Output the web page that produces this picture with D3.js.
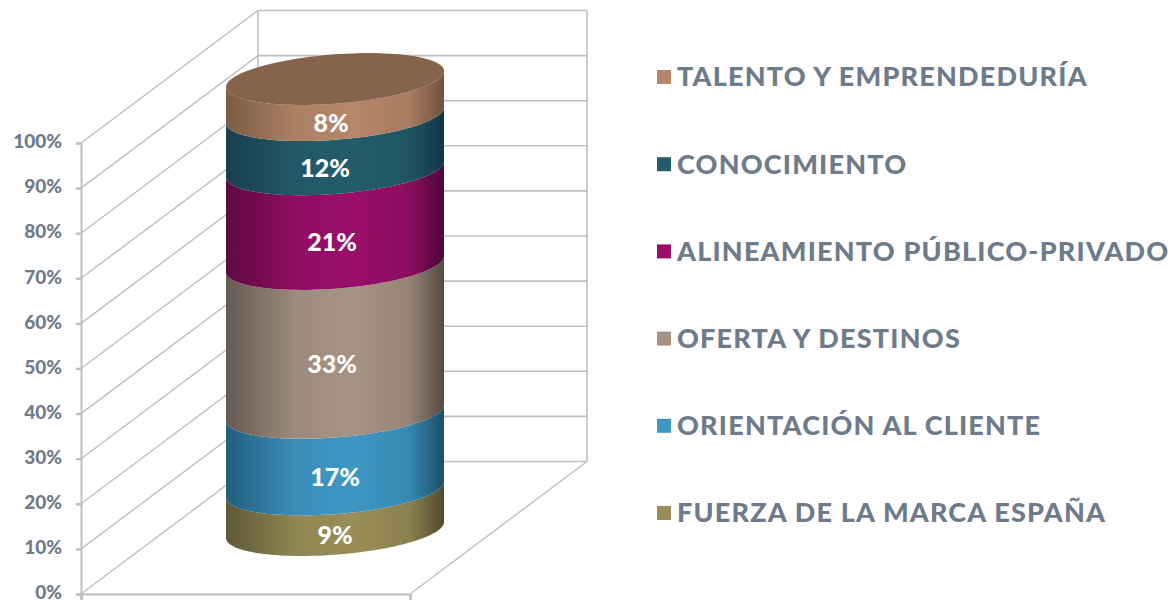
<!DOCTYPE html>
<html>
<head>
<meta charset="utf-8">
<script src="https://cdn.jsdelivr.net/npm/d3@7"></script>
<style>
  html, body { margin: 0; background: #fff; }
  svg { display: block; font-family: Lato, sans-serif; }
</style>
</head>
<body>
<div id="chart"></div>
<script>
// data, bottom of the stack first
const categories = ["FUERZA DE LA MARCA ESPAÑA", "ORIENTACIÓN AL CLIENTE", "OFERTA Y DESTINOS",
  "ALINEAMIENTO PÚBLICO-PRIVADO", "CONOCIMIENTO", "TALENTO Y EMPRENDEDURÍA"];
const values = [9, 17, 33, 21, 12, 8];
const axisTicks = [0, 10, 20, 30, 40, 50, 60, 70, 80, 90, 100];

// colours: legend/mid tone, edge tones of the cylinder shading
const baseColors = ["#998E57", "#3E97C3", "#A69383", "#9A0E69", "#245C6C", "#B5866A"];
const leftColors = ["#5E5836", "#235F7E", "#655B51", "#5E0A42", "#183F4D", "#7A5C44"];
const rightColors = ["#514C2F", "#1D4F68", "#544A41", "#4F0838", "#123642", "#6E5340"];
const topColor = "#86634B";

const gridColor = "#BFBFBF";
const textColor = "#6E7B8B";

const svg = d3.select("#chart").append("svg").attr("width", 1176).attr("height", 603);

// scales
const y = d3.scaleLinear().domain([0, 100]).range([594, 143]);
const x = d3.scaleLinear().domain([0, 1]).range([81, 410]);
const depth = { dx: 177, dy: -132.5 };

// back wall + floor
const walls = svg.append("g").attr("fill", "none").attr("stroke", gridColor);
walls.selectAll(".back").data(axisTicks).join("line")
  .attr("x1", x(0) + depth.dx).attr("x2", x(1) + depth.dx)
  .attr("y1", d => y(d) + depth.dy).attr("y2", d => y(d) + depth.dy)
  .attr("stroke-width", 1.6);
walls.selectAll(".side").data(axisTicks).join("line")
  .attr("x1", x(0)).attr("x2", x(0) + depth.dx)
  .attr("y1", d => y(d)).attr("y2", d => y(d) + depth.dy)
  .attr("stroke-width", 1.4);
walls.append("line")
  .attr("x1", x(0) + depth.dx).attr("x2", x(0) + depth.dx)
  .attr("y1", y(0) + depth.dy).attr("y2", y(100) + depth.dy)
  .attr("stroke-width", 1.6);
walls.append("line")
  .attr("x1", x(1) + depth.dx).attr("x2", x(1) + depth.dx)
  .attr("y1", y(0) + depth.dy).attr("y2", y(100) + depth.dy)
  .attr("stroke-width", 1.6);
walls.append("line")
  .attr("x1", x(1)).attr("x2", x(1) + depth.dx)
  .attr("y1", y(0)).attr("y2", y(0) + depth.dy)
  .attr("stroke-width", 1.4);

// y axis
const yAxis = svg.append("g")
  .attr("transform", `translate(${x(0)},0)`)
  .call(d3.axisLeft(y).tickValues(axisTicks).tickFormat(d => d + "%").tickSize(5).tickPadding(14));
yAxis.select(".domain").attr("stroke", gridColor).attr("stroke-width", 2);
yAxis.selectAll("line").attr("stroke", gridColor).attr("stroke-width", 2.5);
yAxis.selectAll("text").attr("fill", textColor)
  .style("font-family", "Lato, sans-serif").style("font-size", "19px").style("font-weight", 900);
yAxis.selectAll("text").attr("dy", "0.25em");

// x axis
const xAxis = svg.append("g")
  .attr("transform", `translate(0,${y(0)})`)
  .call(d3.axisBottom(x).tickValues([0, 1]).tickFormat("").tickSize(6));
xAxis.select(".domain").attr("stroke", gridColor).attr("stroke-width", 2);
xAxis.selectAll("line").attr("stroke", gridColor).attr("stroke-width", 2.5);

// cylinder geometry: a tilted ellipse, sampled along t
const cyl = { cx: 335, rx: 109, ry: 24.7, tilt: -8, lift: 38 };
const lowest = Math.hypot(cyl.ry, cyl.tilt);
const ellipsePoint = (t, v) => {
  const cy = y(v) - cyl.lift - lowest;
  return [cyl.cx + cyl.rx * Math.cos(t), cy + cyl.ry * Math.sin(t) + cyl.tilt * Math.cos(t)];
};
const line = d3.line();
const steps = d3.range(0, 61).map(i => i / 60 * Math.PI);

const stack = d3.stack().keys(d3.range(values.length))(
  [values.reduce((row, v, i) => (row[i] = v, row), {})]
);
const segments = stack.map((s, i) => ({ i, y0: s[0][0], y1: s[0][1], value: values[i] }));

// shading gradients
const defs = svg.append("defs");
segments.forEach(d => {
  const g = defs.append("linearGradient").attr("id", "seg" + d.i);
  g.append("stop").attr("offset", "0%").attr("stop-color", leftColors[d.i]);
  g.append("stop").attr("offset", "32%").attr("stop-color", d3.interpolateRgb(leftColors[d.i], baseColors[d.i])(0.85));
  g.append("stop").attr("offset", "58%").attr("stop-color", baseColors[d.i]);
  g.append("stop").attr("offset", "84%").attr("stop-color", d3.interpolateRgb(rightColors[d.i], baseColors[d.i])(0.8));
  g.append("stop").attr("offset", "100%").attr("stop-color", rightColors[d.i]);
});

svg.append("g").selectAll("path").data(segments).join("path")
  .attr("fill", d => `url(#seg${d.i})`)
  .attr("d", d => {
    const upper = steps.map(t => ellipsePoint(t, d.y1));
    const lower = steps.slice().reverse().map(t => ellipsePoint(t, d.y0));
    return line(upper.concat(lower)) + "Z";
  });

// top cap
const capSteps = d3.range(0, 121).map(i => i / 120 * 2 * Math.PI);
svg.append("path")
  .attr("fill", topColor)
  .attr("d", line(capSteps.map(t => ellipsePoint(t, 100))) + "Z");

// value labels
const labelNudge = [3, 3, 0, 0, -7, -1];
svg.append("g").selectAll("text").data(segments).join("text")
  .attr("x", d => 332 + labelNudge[d.i])
  .attr("y", d => y((d.y0 + d.y1) / 2) - cyl.lift)
  .attr("dy", "0.35em")
  .attr("text-anchor", "middle")
  .attr("fill", "#fff")
  .style("font-size", "25px")
  .style("font-weight", 900)
  .text(d => d.value + "%");

// legend, top of the stack first
const legendY = d3.scalePoint().domain(d3.range(values.length).reverse()).range([77, 513]);
const legend = svg.append("g").selectAll("g").data(d3.range(values.length)).join("g")
  .attr("transform", i => `translate(657,${legendY(i)})`);
legend.append("rect")
  .attr("y", -7).attr("width", 14).attr("height", 14)
  .attr("fill", i => baseColors[i]);
legend.append("text")
  .attr("x", 20)
  .attr("dy", "0.35em")
  .attr("fill", textColor)
  .style("font-size", "27px")
  .style("font-weight", 900)
  .style("letter-spacing", "1.2px")
  .text(i => categories[i]);
</script>
</body>
</html>
